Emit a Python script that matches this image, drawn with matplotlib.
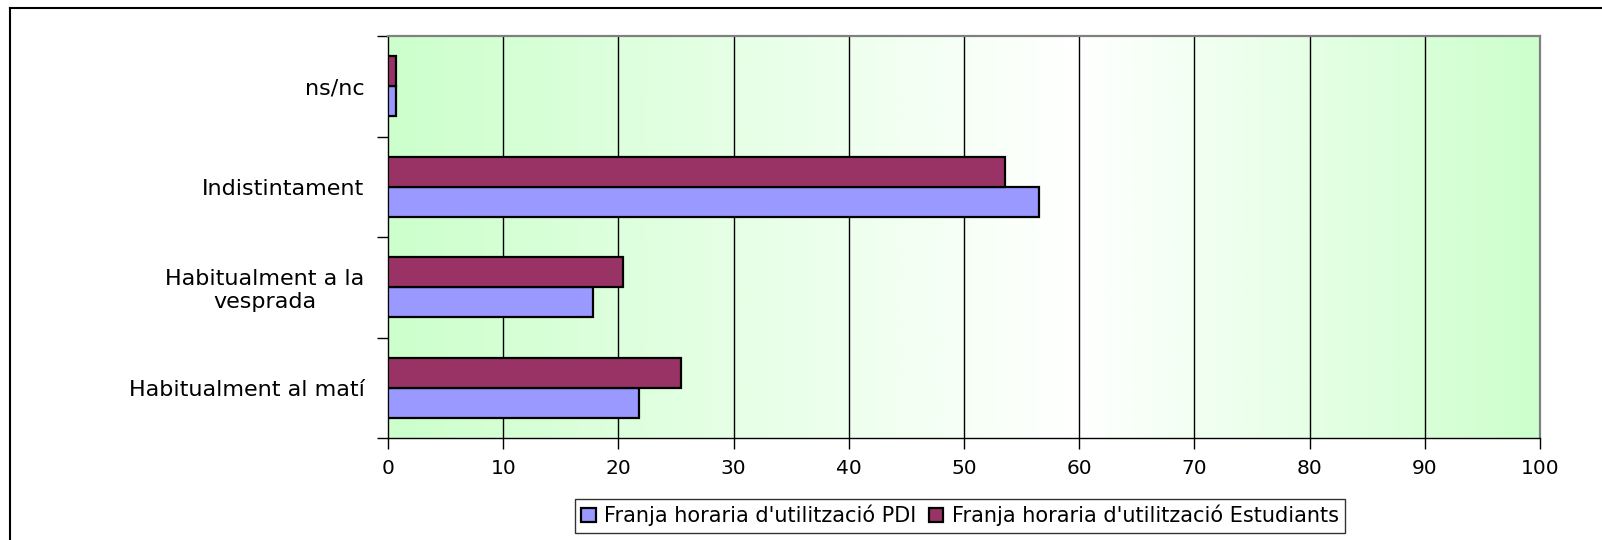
import numpy as np
import matplotlib
matplotlib.use("Agg")
import matplotlib.pyplot as plt
from matplotlib.colors import LinearSegmentedColormap
from matplotlib.lines import Line2D

categories = ["Habitualment al matí", "Habitualment a la\nvesprada", "Indistintament", "ns/nc"]
pdi_values = [21.8, 17.8, 56.5, 0.7]
est_values = [25.4, 20.4, 53.6, 0.7]
series_names = ["Franja horaria d'utilització PDI", "Franja horaria d'utilització Estudiants"]
x_ticks = [0, 10, 20, 30, 40, 50, 60, 70, 80, 90, 100]

plt.rcParams['font.family'] = ['DejaVu Sans']

W, H = 1602, 540
fig = plt.figure(figsize=(W / 100, H / 100), dpi=100)
fig.patch.set_facecolor('white')

ax = fig.add_axes([388 / W, 1 - 438 / H, (1540 - 388) / W, (438 - 36) / H])

# gradient background
green = (204 / 255, 1.0, 204 / 255)
cmap = LinearSegmentedColormap.from_list("bg", [(0.0, green), (0.6, (1, 1, 1)), (1.0, green)])
grad = np.linspace(0, 1, 512).reshape(1, -1)
ax.imshow(grad, cmap=cmap, aspect='auto', extent=[0, 100, -0.5, len(categories) - 0.5],
          zorder=0, interpolation='bilinear')

y = np.arange(len(categories))
h = 0.297
ax.barh(y - h / 2, pdi_values, height=h, color='#9999FF', edgecolor='black', linewidth=1.6,
        label=series_names[0], zorder=3)
ax.barh(y + h / 2, est_values, height=h, color='#993366', edgecolor='black', linewidth=1.6,
        label=series_names[1], zorder=3)

ax.set_xlim(0, 100)
ax.set_ylim(-0.5, len(categories) - 0.5)

for xv in x_ticks[1:-1]:
    ax.axvline(xv, color='black', linewidth=1.0, zorder=1)

ax.set_xticks(x_ticks)
ax.set_xticklabels([str(v) for v in x_ticks], fontsize=14.5)
ax.tick_params(axis='x', direction='out', length=8, width=1, pad=7, colors='black')

ax.set_yticks(np.arange(-0.5, len(categories), 1.0))
ax.set_yticklabels([])
ax.tick_params(axis='y', which='major', direction='out', length=8, width=1)
ax.set_yticks(y, minor=True)
ax.set_yticklabels(categories, minor=True, fontsize=16, multialignment='center')
ax.tick_params(axis='y', which='minor', length=0, pad=17)

for s in ['top', 'right']:
    ax.spines[s].set_color('#808080')
    ax.spines[s].set_linewidth(1.6)
for s in ['left', 'bottom']:
    ax.spines[s].set_color('black')
    ax.spines[s].set_linewidth(1.0)

leg = fig.legend(loc='center', bbox_to_anchor=(960 / W, 1 - 515.5 / H), ncol=2,
                 fontsize=15, frameon=True, fancybox=False, shadow=False,
                 handlelength=0.7, handleheight=0.7, handletextpad=0.4,
                 columnspacing=0.6, borderpad=0.3, edgecolor='black')
leg.get_frame().set_linewidth(1.0)

# outer chart frame (left and top edges visible)
fig.add_artist(Line2D([10 / W, 10 / W], [0, 1 - 8 / H], transform=fig.transFigure,
                      color='black', linewidth=1.5))
fig.add_artist(Line2D([10 / W, 1], [1 - 8 / H, 1 - 8 / H], transform=fig.transFigure,
                      color='black', linewidth=1.5))

fig.savefig("out.png", dpi=100)
